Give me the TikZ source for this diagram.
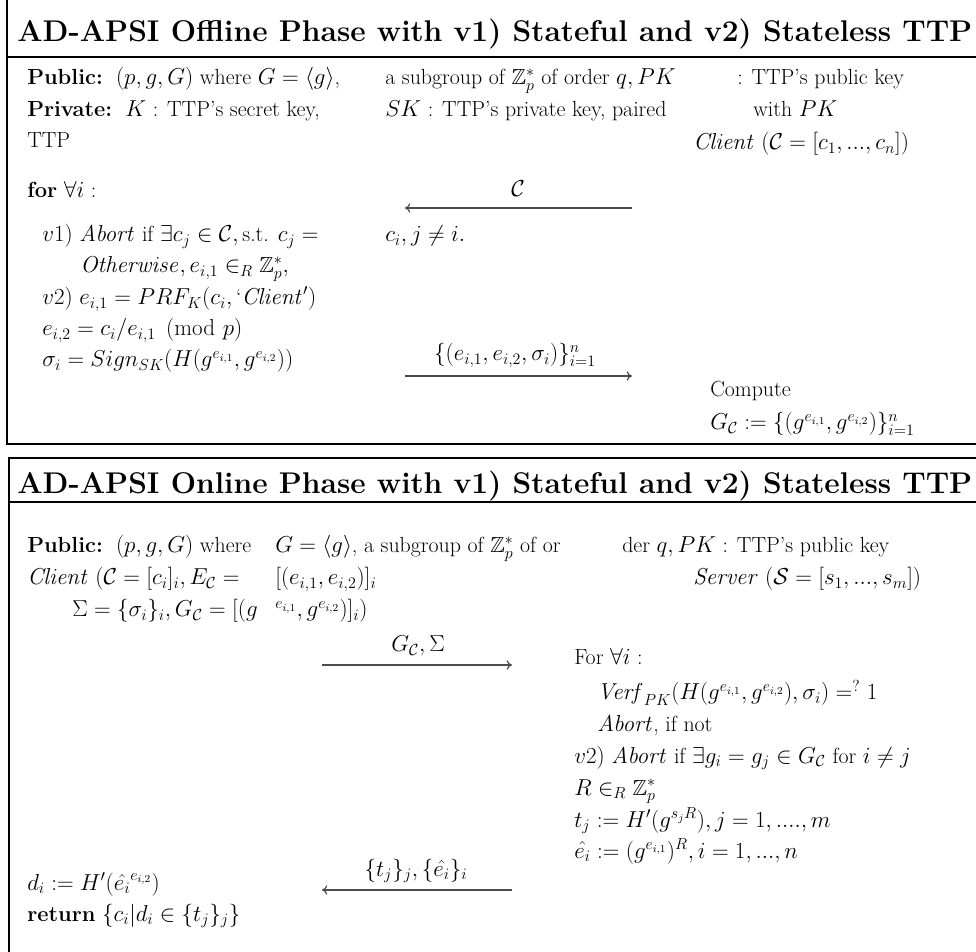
\documentclass[tikz,border=0pt]{standalone}
\usepackage{amsmath,amssymb,graphicx}
\usetikzlibrary{arrows.meta}
\newlength\pxu
\setlength\pxu{0.75pt}
\newcommand\fwt[2]{\resizebox{#1\pxu}{!}{#2}}
\begin{document}
\begin{tikzpicture}[x=0.75pt,y=-0.75pt,
  txt/.style={anchor=base west,inner sep=0pt,font=\fontsize{16.4}{19}\selectfont},
  lbl/.style={anchor=base,inner sep=0pt,font=\fontsize{16.4}{19}\selectfont},
  ttl/.style={anchor=base west,inner sep=0pt,font=\fontsize{21}{25}\selectfont\bfseries},
  frame/.style={line width=2.2pt},
  msg/.style={draw=black!70,line width=0.9pt,-{To[length=4pt,width=7pt]}}]
\useasboundingbox (0,0) rectangle (976,952);
\begin{scope}
\clip (0,0) rectangle (976,952);
% ---------- top box ----------
\draw[frame] (7,-10) -- (7,444) -- (990,444);
\draw[frame] (7,57) -- (990,57);
% ---------- bottom box ----------
\draw[frame] (9,970) -- (9,458) -- (990,458);
\draw[frame] (9,502) -- (990,502);
\end{scope}

\node[ttl] (t1) at (17,42) {\fwt{955}{AD-APSI Offline Phase with v1) Stateful and v2) Stateless TTP}};

\node[txt] (p1) at (27,85) {\textbf{Public:}\ \ $(p,g,G)$ where $G=\langle g\rangle$,};
\node[txt] (p2) at (385,85) {a subgroup of $\mathbb{Z}_p^*$ of order $q, PK$};
\node[txt] (p3) at (737,85) {: TTP's public key};
\node[txt] (q1) at (27,117) {\textbf{Private:}\ \ $K$ : TTP's secret key,};
\node[txt] (q2) at (385,117) {$SK$ : TTP's private key, paired};
\node[txt] (q3) at (753,117) {with $PK$};
\node[txt] (ttp) at (27,148) {TTP};
\node[txt] (cl) at (693,150) {$\mathit{Client}\ (\mathcal{C}=[c_1,...,c_n])$};
\node[txt] (for1) at (27,198) {\textbf{for} $\forall i$ :};
\node[txt] (v1a) at (42,242) {$v1)$ $\mathit{Abort}$ if $\exists c_j\in\mathcal{C},\text{s.t. } c_j=$};
\node[txt] (v1b) at (385,242) {$c_i, j\neq i.$};
\node[txt] (oth) at (80,273) {$\mathit{Otherwise}, e_{i,1}\in_R\mathbb{Z}_p^*,$};
\node[txt] (v2) at (42,305) {$v2)$ $e_{i,1}=PRF_K(c_i,\text{`}\mathit{Client}')$};
\node[txt] (e2) at (42,336) {$e_{i,2}=c_i/e_{i,1} \pmod p$};
\node[txt] (sig) at (42,367) {$\sigma_i=Sign_{SK}(H(g^{e_{i,1}},g^{e_{i,2}}))$};
\node[txt] (cmp) at (710,397) {Compute};
\node[txt] (gc) at (710,430) {$G_{\mathcal{C}}:=\{(g^{e_{i,1}},g^{e_{i,2}})\}_{i=1}^n$};

\coordinate (m1r) at (632,208);
\coordinate (m1l) at (405,208);
\draw[msg] (m1r) -- (m1l);
\node[lbl] (m1t) at (518,197) {$\mathcal{C}$};
\coordinate (m2l) at (405,376);
\coordinate (m2r) at (632,376);
\draw[msg] (m2l) -- (m2r);
\node[lbl] (m2t) at (515,361) {$\{(e_{i,1},e_{i,2},\sigma_i)\}_{i=1}^n$};

% ---------- bottom ----------
\node[ttl] (t2) at (17,494) {\fwt{955}{AD-APSI Online Phase with v1) Stateful and v2) Stateless TTP}};
\node[txt] (b1) at (27,553) {\textbf{Public:}\ \ $(p,g,G)$ where};
\node[txt] (b2) at (275,553) {$G=\langle g\rangle$, a subgroup of $\mathbb{Z}_p^*$ of or};
\node[txt] (b3) at (622,553) {der $q, PK$ : TTP's public key};
\node[txt] (c1) at (27,585) {$\mathit{Client}\ (\mathcal{C}=[c_i]_i, E_{\mathcal{C}}=$};
\node[txt] (c2) at (275,585) {$[(e_{i,1},e_{i,2})]_i$};
\node[txt] (srv) at (693,585) {$\mathit{Server}\ (\mathcal{S}=[s_1,...,s_m])$};
\node[txt] (s1) at (72,617) {$\Sigma=\{\sigma_i\}_i, G_{\mathcal{C}}=[(g$};
\node[txt] (s2) at (275,617) {${}^{e_{i,1}},g^{e_{i,2}})]_i)$};
\node[txt] (fa) at (574,664) {For $\forall i$ :};
\node[txt] (vf) at (597,700) {$\mathit{Verf}_{PK}(H(g^{e_{i,1}},g^{e_{i,2}}),\sigma_i)=^{?}1$};
\node[txt] (ab) at (597,731) {$\mathit{Abort}$, if not};
\node[txt] (v2b) at (574,763) {$v2)$ $\mathit{Abort}$ if $\exists g_i=g_j\in G_{\mathcal{C}}$ for $i\neq j$};
\node[txt] (rr) at (574,795) {$R\in_R\mathbb{Z}_p^*$};
\node[txt] (tj) at (574,827) {$t_j:=H'(g^{s_jR}), j=1,....,m$};
\node[txt] (eh) at (574,858) {$\hat{e_i}:=(g^{e_{i,1}})^R, i=1,...,n$};
\node[txt] (di) at (27,890) {$d_i:=H'(\hat{e_i}^{e_{i,2}})$};
\node[txt] (ret) at (27,921) {\textbf{return} $\{c_i|d_i\in\{t_j\}_j\}$};

\coordinate (m3l) at (322,665);
\coordinate (m3r) at (512,665);
\draw[msg] (m3l) -- (m3r);
\node[lbl] (m3t) at (418,652) {$G_{\mathcal{C}},\Sigma$};
\coordinate (m4r) at (512,890);
\coordinate (m4l) at (322,890);
\draw[msg] (m4r) -- (m4l);
\node[lbl] (m4t) at (416,876) {$\{t_j\}_j,\{\hat{e_i}\}_i$};
\end{tikzpicture}
\end{document}
